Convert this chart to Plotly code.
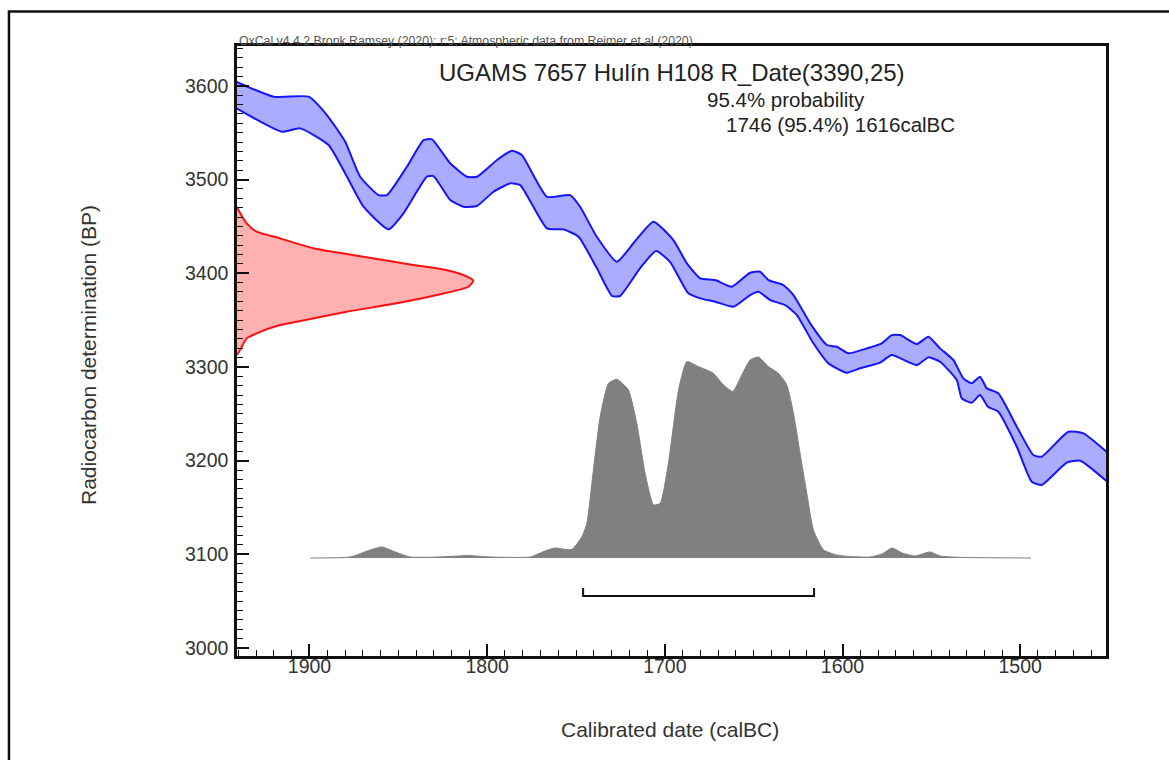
import plotly.graph_objects as go

# Calibration curve (IntCal20) 1-sigma envelope: calendar year (BC) and BP
curve_upper_year = [1942, 1920.2, 1900.5, 1890.2, 1879.9, 1871.5, 1861.2, 1856.4, 1845.2, 1835.8,
                    1831.1, 1820.8, 1811.4, 1805.8, 1794.5, 1786.1, 1780.5, 1766.4, 1753.3, 1747.7,
                    1738.3, 1727.0, 1716.7, 1706.4, 1695.2, 1687.6, 1680.1, 1671.7, 1662.3, 1652.0,
                    1646.4, 1641.7, 1633.3, 1627.6, 1618.2, 1608.8, 1603.2, 1596.7, 1586.3, 1577.9,
                    1572.3, 1567.6, 1558.2, 1551.7, 1545.1, 1537.6, 1532.0, 1527.3, 1522.6, 1518.8,
                    1512.3, 1501.9, 1492.6, 1487.9, 1472.9, 1464.4, 1450]
curve_upper_bp = [3605, 3588.4, 3588.4, 3568.8, 3540.3, 3503.0, 3483.4, 3483.4, 3513.6, 3542.1,
                  3542.9, 3517.3, 3503.0, 3503.0, 3520.8, 3530.7, 3526.1, 3481.6, 3483.4, 3471.0,
                  3438.9, 3412.3, 3434.4, 3455.0, 3435.4, 3410.6, 3394.5, 3392.7, 3385.6, 3400.5,
                  3401.6, 3392.7, 3387.4, 3376.7, 3346.5, 3323.4, 3321.5, 3314.5, 3319.8, 3325.2,
                  3334.0, 3334.0, 3324.4, 3332.2, 3319.8, 3307.4, 3287.8, 3282.5, 3289.5, 3277.2,
                  3271.8, 3236.2, 3206.0, 3204.2, 3230.8, 3229.1, 3207]

curve_lower_year = [1942, 1915.5, 1905.2, 1889.3, 1878.9, 1869.6, 1855.5, 1847.1, 1833.9, 1830.2,
                    1820.8, 1813.3, 1805.8, 1796.4, 1787.0, 1781.4, 1766.4, 1757.1, 1748.6, 1738.3,
                    1729.7, 1725.2, 1713.9, 1704.9, 1697.0, 1686.9, 1680.1, 1671.7, 1661.4, 1652.0,
                    1647.3, 1640.7, 1632.3, 1625.7, 1616.4, 1607.9, 1597.6, 1590.1, 1578.9, 1572.3,
                    1558.2, 1551.7, 1545.1, 1535.7, 1532.9, 1527.3, 1522.6, 1518.1, 1512.3, 1501.9,
                    1493.5, 1487.9, 1473.8, 1466.3, 1450]
curve_lower_bp = [3577, 3551.0, 3554.6, 3536.8, 3503.0, 3471.0, 3446.8, 3463.9, 3503.0, 3503.7,
                  3478.1, 3471.0, 3471.7, 3487.0, 3495.9, 3494.1, 3447.9, 3446.8, 3438.9, 3405.5,
                  3375.7, 3375.7, 3405.5, 3423.7, 3411.9, 3378.9, 3373.2, 3369.6, 3364.2, 3376.7,
                  3380.2, 3371.4, 3366.0, 3355.4, 3325.2, 3303.8, 3293.8, 3298.5, 3304.5, 3312.7,
                  3302.0, 3310.2, 3305.5, 3286.0, 3266.5, 3261.8, 3270.0, 3257.5, 3252.2, 3214.8,
                  3177.5, 3174.0, 3197.8, 3199.9, 3176]

# Radiocarbon measurement R_Date(3390,25): BP vs relative probability
rdate_bp = [3470.6, 3467.4, 3453.2, 3444.3, 3437.2, 3426.6, 3417.6, 3408.7, 3405.2, 3398.1,
            3392.0, 3385.6, 3376.7, 3367.9, 3358.9, 3348.2, 3344.7, 3335.8, 3330.5, 3318.0, 3312.7]
rdate_prob = [0, 0.006, 0.041, 0.083, 0.182, 0.323, 0.534, 0.746, 0.845, 0.958,
              1.0, 0.979, 0.845, 0.676, 0.464, 0.253, 0.182, 0.083, 0.041, 0.013, 0]

# Calibrated date distribution: year BC vs relative probability
cal_year = [1899.6, 1877.1, 1865.8, 1859.1, 1851.8, 1843.3, 1826.5, 1810.7, 1798.3, 1775.8,
            1767.4, 1761.7, 1756.1, 1752.2, 1746.7, 1743.9, 1740.2, 1736.4, 1731.7, 1727.0,
            1720.5, 1715.8, 1711.1, 1706.4, 1702.6, 1698.0, 1692.3, 1687.6, 1681.1, 1672.7,
            1667.0, 1661.7, 1657.6, 1652.0, 1647.3, 1641.7, 1636.1, 1631.4, 1627.6, 1623.9,
            1620.1, 1616.4, 1610.7, 1603.2, 1595.7, 1584.5, 1577.7, 1572.1, 1566.5, 1559.2,
            1550.7, 1545.1, 1533.9, 1493.9]
cal_prob = [0, 0.005, 0.04, 0.055, 0.03, 0.005, 0.005, 0.012, 0.005, 0.005,
            0.035, 0.05, 0.043, 0.043, 0.106, 0.172, 0.438, 0.703, 0.869, 0.889,
            0.836, 0.670, 0.421, 0.264, 0.272, 0.471, 0.836, 0.977, 0.952, 0.919,
            0.861, 0.828, 0.894, 0.985, 1.0, 0.952, 0.919, 0.862, 0.720, 0.521,
            0.322, 0.139, 0.04, 0.015, 0.007, 0.005, 0.02, 0.05, 0.025, 0.01,
            0.03, 0.01, 0.003, 0]

# 95.4% highest probability range (calBC)
range_start = 1746
range_end = 1616
range_pct = 95.4

sample_title = "UGAMS 7657 Hulín H108 R_Date(3390,25)"
header_text = "OxCal v4.4.2 Bronk Ramsey (2020); r:5; Atmospheric data from Reimer et al (2020)"

FONT = "Liberation Sans, Arial, sans-serif"
BLUE = "#1414ff"

fig = go.Figure()

# Calibration curve envelope (filled polygon) and its two outlines
fig.add_trace(go.Scatter(
    x=curve_upper_year + curve_lower_year[::-1],
    y=curve_upper_bp + curve_lower_bp[::-1],
    mode="lines", fill="toself", fillcolor="rgba(172,172,255,1)",
    line=dict(width=0, shape="spline", smoothing=0.5), hoverinfo="skip", showlegend=False))
for xs, ys in ((curve_upper_year, curve_upper_bp), (curve_lower_year, curve_lower_bp)):
    fig.add_trace(go.Scatter(x=xs, y=ys, mode="lines",
                             line=dict(color=BLUE, width=2, shape="spline", smoothing=0.5),
                             showlegend=False))

# Measured radiocarbon age distribution along the BP axis
fig.add_trace(go.Scatter(x=rdate_prob, y=rdate_bp, xaxis="x2", yaxis="y",
                         mode="lines", fill="tozerox", fillcolor="#ffb0b0",
                         line=dict(color="#ff1010", width=2, shape="spline", smoothing=0.6),
                         showlegend=False))

# Calibrated date distribution
fig.add_trace(go.Scatter(x=cal_year, y=cal_prob, xaxis="x", yaxis="y2",
                         mode="lines", fill="tozeroy", fillcolor="#808080",
                         line=dict(color="#808080", width=1, shape="spline", smoothing=0.5),
                         showlegend=False))

# Range bracket under the calibrated distribution
fig.add_trace(go.Scatter(x=[range_start, range_start, range_end, range_end],
                         y=[-0.149, -0.189, -0.189, -0.149], xaxis="x", yaxis="y2",
                         mode="lines", line=dict(color="#111111", width=2),
                         showlegend=False))

axis_common = dict(
    showgrid=False, zeroline=False, showline=True, linecolor="#111111", linewidth=2.5,
    mirror=True, ticks="inside", ticklen=12, tickwidth=1.5, tickcolor="#111111",
    tickfont=dict(family=FONT, size=19.5, color="#333333"),
    minor=dict(ticks="inside", ticklen=6, tickwidth=1, tickcolor="#111111", dtick=10),
)

fig.update_layout(
    width=1169, height=760,
    margin=dict(l=237, r=63, t=46, b=104),
    paper_bgcolor="white", plot_bgcolor="white",
    font=dict(family=FONT, color="#222222"),
    xaxis=dict(range=[1940.8, 1451.7], dtick=100, tick0=0, ticklabelstandoff=-9, **axis_common),
    yaxis=dict(range=[2991.5, 3642.5], dtick=100, tick0=0, ticklabelstandoff=2, **axis_common),
    xaxis2=dict(overlaying="x", anchor="y", range=[0, 3.678], visible=False),
    yaxis2=dict(overlaying="y", anchor="x", range=[-0.4876, 2.547], visible=False),
    showlegend=False,
)

annotations = [
    dict(text=header_text, x=0, y=1.008, xanchor="left", yanchor="middle",
         font=dict(size=12.3, color="#555555")),
    dict(text=sample_title, x=0.501, y=0.956, xanchor="center", yanchor="middle",
         font=dict(size=24, color="#222222")),
    dict(text=f"{range_pct}% probability", x=0.632, y=0.913, xanchor="center", yanchor="middle",
         font=dict(size=20.5, color="#222222")),
    dict(text=f"{range_start} ({range_pct}%) {range_end}calBC", x=0.694, y=0.872,
         xanchor="center", yanchor="middle", font=dict(size=20.5, color="#222222")),
    dict(text="Radiocarbon determination (BP)", x=-0.1715, y=0.4934, textangle=-90,
         xanchor="center", yanchor="middle", font=dict(size=21, color="#333333")),
    dict(text="Calibrated date (calBC)", x=0.498, y=-0.1213, xanchor="center",
         yanchor="middle", font=dict(size=21, color="#333333")),
]
for a in annotations:
    a.update(xref="paper", yref="paper", showarrow=False)
fig.update_layout(annotations=annotations)

# Outer page frame (top and left edges)
fig.add_shape(type="path", xref="paper", yref="paper",
              path="M -0.2624 -0.25 L -0.2624 1.0566 L 1.1 1.0566",
              line=dict(color="#111111", width=2.5))

fig.write_html("out.html")
